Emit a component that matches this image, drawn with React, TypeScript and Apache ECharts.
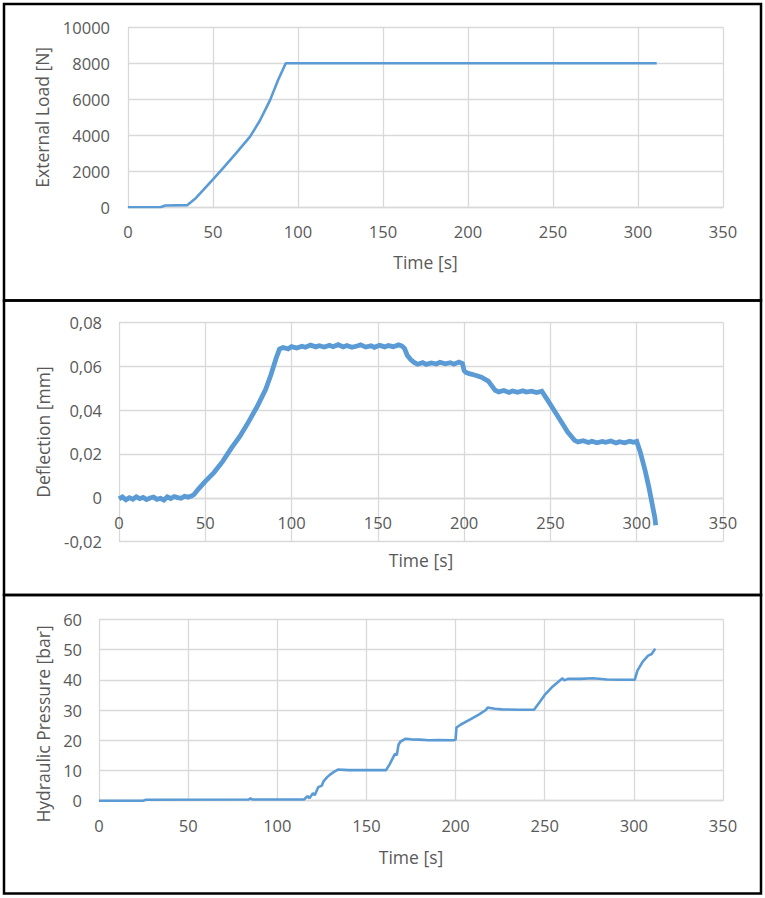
import React, { useEffect, useRef } from "react";
import * as echarts from "echarts";

const loadTime = [0, 19, 22, 34.8, 40, 44.6, 50, 56.2, 64, 71.8, 77.6, 83.5, 88.3, 92.8, 311];
const loadValue = [0, 0, 100, 120, 520, 990, 1550, 2200, 3050, 3930, 4820, 5940, 7070, 8000, 8000];

const deflTime = [0, 2, 4, 6, 8, 10, 12, 14, 16, 18, 20, 22, 24, 26, 28, 30, 32, 34, 36, 38, 40, 42, 43.5, 46, 50, 55, 60, 65, 70, 75, 80, 85, 88, 91, 93, 95, 98, 100, 103, 106, 108, 111, 114, 116, 119, 122, 124, 127, 130, 132, 135, 138, 140, 143, 146, 148, 151, 154, 156, 159, 162, 164, 165.5, 167, 169, 171, 173, 176, 178, 181, 184, 186, 189, 192, 194, 197, 199, 200, 201, 203, 206, 210, 214, 218, 220, 223, 226, 228, 231, 234, 236, 239, 242, 245, 248, 252, 256, 260, 264, 266, 269, 272, 274, 277, 280, 282, 285, 288, 290, 293, 296, 298, 300, 302, 305, 307, 309, 310.5, 311];
const deflValue = [-0.0005, 0.0004, -0.0009, 0.0001, -0.0006, 0.0005, -0.0004, 0.0002, -0.0008, -0.0001, 0.0003, -0.0007, -0.0002, -0.001, 0.0004, -0.0003, 0.0006, 0.0001, -0.0002, 0.0007, 0.0003, 0.0008, 0.0015, 0.004, 0.0075, 0.0115, 0.0165, 0.0225, 0.028, 0.0345, 0.0415, 0.0495, 0.056, 0.0635, 0.0678, 0.0685, 0.0679, 0.0689, 0.0683, 0.0691, 0.0686, 0.0696, 0.0688, 0.0693, 0.0687, 0.0695, 0.0689, 0.0698, 0.0688, 0.0694, 0.0686, 0.0692, 0.0697, 0.0687, 0.0693, 0.0686, 0.0695, 0.0688, 0.0694, 0.0689, 0.0697, 0.0692, 0.068, 0.065, 0.063, 0.0617, 0.0609, 0.0616, 0.0608, 0.0615, 0.061, 0.0618, 0.0611, 0.0616, 0.0609, 0.0619, 0.0612, 0.058, 0.0572, 0.0566, 0.056, 0.055, 0.0532, 0.049, 0.0483, 0.0489, 0.048, 0.0487, 0.0481, 0.0488, 0.0482, 0.0486, 0.048, 0.0486, 0.045, 0.04, 0.035, 0.03, 0.0262, 0.0255, 0.026, 0.0252, 0.0258, 0.0251, 0.0257, 0.0253, 0.0259, 0.025, 0.0256, 0.0251, 0.0258, 0.0253, 0.0257, 0.021, 0.012, 0.005, -0.003, -0.009, -0.0125];

const presTime = [0, 25, 26, 84, 85, 86, 110, 115, 117, 118, 120, 121, 123, 125, 126, 128, 130, 132, 134, 140, 150, 161, 163, 166, 167, 168, 169, 172, 175, 180, 185, 190, 199, 200, 200.5, 203, 208, 213, 217, 218, 222, 226, 235, 244, 247, 250, 254, 258, 260, 261, 263, 270, 277, 285, 292, 300.5, 302, 305, 308, 310, 312];
const presValue = [0, 0, 0.3, 0.4, 0.8, 0.4, 0.4, 0.4, 1.5, 0.8, 2.5, 1.8, 4.5, 5, 6.5, 7.8, 8.8, 9.6, 10.3, 10.1, 10.1, 10.1, 12, 15.5, 15, 18.5, 19.5, 20.5, 20.3, 20.2, 20.0, 20.1, 20.0, 20.2, 24.2, 25.2, 26.8, 28.5, 30, 30.8, 30.4, 30.2, 30.1, 30.1, 32.5, 35, 37.5, 39.5, 40.5, 39.8, 40.3, 40.3, 40.5, 40.1, 40.0, 40.0, 43, 46, 48, 48.5, 50.3];

const xTitle = "Time [s]";
const yTitles = ["External Load [N]", "Deflection [mm]", "Hydraulic Pressure [bar]"];

const FONT = "Open Sans";
const TXT = "#595959";
const GRID = "#D9D9D9";
const BLUE = "#5B9BD5";

function zip(a: number[], b: number[]) {
  return a.map((t, i) => [t, b[i]]);
}

export default function App() {
  const ref = useRef<HTMLDivElement>(null);
  useEffect(() => {
    document.body.style.margin = "0";
    const chart = echarts.init(ref.current!, undefined, { renderer: "svg" });
    const grids = [
      { left: 128, top: 27.3, width: 595, height: 180 },
      { left: 119, top: 322.3, width: 604, height: 219.4 },
      { left: 99, top: 619.3, width: 624, height: 181.4 },
    ];
    const xNameGap = [46, 53.5, 47.5];
    const xOffset = [0, -43.9, 0];
    const yLabelMargin = [18, 17, 17];
    const yNameGap = [77, 67, 47];
    const yNamePadding = [0, 0, [0, 28, 0, 0]];
    const yRanges = [
      { min: 0, max: 10000, interval: 2000 },
      { min: -0.02, max: 0.08, interval: 0.02 },
      { min: 0, max: 60, interval: 10 },
    ];
    const option: any = {
      animation: false,
      grid: grids.map((g) => ({ ...g, outerBoundsMode: "none", containLabel: false })),
      xAxis: grids.map((_, i) => ({
        type: "value",
        gridIndex: i,
        min: 0,
        max: 350,
        interval: 50,
        offset: xOffset[i],
        name: xTitle,
        nameLocation: "middle",
        nameGap: xNameGap[i],
        nameTextStyle: { fontFamily: FONT, fontSize: 17.5, color: TXT },
        axisLine: { show: true, onZero: false, lineStyle: { color: GRID, width: 1.3 } },
        axisTick: { show: false },
        axisLabel: { fontFamily: FONT, fontSize: 16.5, color: TXT, margin: 16 },
        splitLine: { show: true, lineStyle: { color: GRID, width: 1.3 } },
      })),
      yAxis: grids.map((_, i) => ({
        type: "value",
        gridIndex: i,
        ...yRanges[i],
        name: yTitles[i],
        nameLocation: "middle",
        nameGap: yNameGap[i],
        nameTextStyle: { fontFamily: FONT, fontSize: 17.5, color: TXT, padding: yNamePadding[i] },
        axisLine: { show: false },
        axisTick: { show: false },
        axisLabel: {
          fontFamily: FONT,
          fontSize: 16.5,
          color: TXT,
          margin: yLabelMargin[i],
          formatter:
            i === 1
              ? (v: number) => (Math.abs(v) < 1e-9 ? "0" : v.toFixed(2).replace(".", ","))
              : (v: number) => String(v),
        },
        splitLine: { show: true, lineStyle: { color: GRID, width: 1.3 } },
      })),
      series: [
        {
          type: "line",
          xAxisIndex: 0,
          yAxisIndex: 0,
          data: zip(loadTime, loadValue),
          showSymbol: false,
          lineStyle: { color: BLUE, width: 2.6 },
        },
        {
          type: "line",
          xAxisIndex: 1,
          yAxisIndex: 1,
          data: zip(deflTime, deflValue),
          showSymbol: false,
          lineStyle: { color: BLUE, width: 4.8, join: "miter" },
        },
        {
          type: "line",
          xAxisIndex: 2,
          yAxisIndex: 2,
          data: zip(presTime, presValue),
          showSymbol: false,
          lineStyle: { color: BLUE, width: 2.6 },
        },
      ],
      graphic: [
        { type: "rect", shape: { x: 4, y: 4, width: 757, height: 296.5 }, style: { fill: "none", stroke: "#000", lineWidth: 2.5 } },
        { type: "rect", shape: { x: 4, y: 300.5, width: 757, height: 294.5 }, style: { fill: "none", stroke: "#000", lineWidth: 2.5 } },
        { type: "rect", shape: { x: 4, y: 595, width: 757, height: 298.5 }, style: { fill: "none", stroke: "#000", lineWidth: 2.5 } },
      ],
    };
    chart.setOption(option);
    return () => chart.dispose();
  }, []);
  return (
    <div
      ref={ref}
      style={{ position: "absolute", left: 0, top: 0, width: 765, height: 898, background: "#fff" }}
    />
  );
}
